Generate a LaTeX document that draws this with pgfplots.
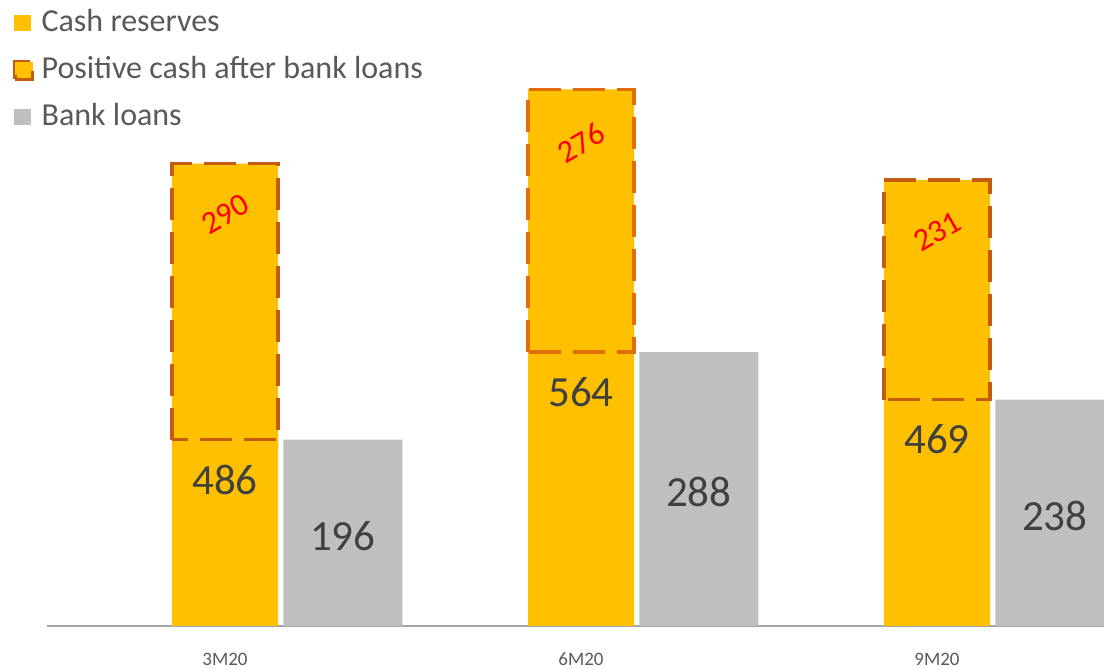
\documentclass[border=0pt]{standalone}
\usepackage{fontspec}
\setmainfont{Carlito}
\usepackage{pgfplots}
\usepackage{pgfplotstable}
\pgfplotsset{compat=1.18}
\definecolor{cashc}{HTML}{FFC000}
\definecolor{bankc}{HTML}{BFBFBF}
\definecolor{boxc}{HTML}{C55A11}
\definecolor{boxd}{HTML}{E26B0A}
\definecolor{numc}{HTML}{404040}
\definecolor{txtc}{HTML}{595959}
\definecolor{axc}{HTML}{A6A6A6}
\pgfplotstableread{
x cash bank pos
0 486 196 290
1 564 288 276
2 469 238 231
}\datatable
\begin{document}
\begin{tikzpicture}
\begin{axis}[
  scale only axis,
  width=528.5pt, height=313pt,
  xmin=-0.5, xmax=2.469,
  ymin=0, ymax=658,
  axis y line=none,
  axis x line*=bottom,
  x axis line style={draw=axc, line width=1.2pt, -},
  ytick=\empty,
  xtick={0,1,2},
  xticklabels={3M20,6M20,9M20},
  major tick length=0pt,
  /pgf/number format/assume math mode=true,
  xticklabel style={font=\fontsize{9.5}{11}\selectfont, text=txtc, anchor=center, yshift=-16.5pt},
  legend style={at={(axis description cs:0,1)}, anchor=north west, xshift=-17pt, yshift=-3.5pt,
    draw=none, fill=none, inner sep=0pt, row sep=7.4pt, column sep=3.6pt,
    font=\fontsize{16}{19}\selectfont, text=txtc,
    nodes={inner sep=0pt, text height=12pt, text depth=4pt}},
  legend cell align=left,
]
\addplot[ybar, bar width=0.298, bar shift=0, fill=cashc, draw=none,
  legend image code/.code={\fill[cashc] (0.5pt,-4pt) rectangle (9pt,4pt);}]
  table[x=x, y=cash]{\datatable};
\addlegendentry{Cash reserves}
\addplot[draw=boxc, line width=1.8pt, dash pattern=on 16pt off 6pt,
  legend image code/.code={\draw[draw=boxc, line width=1.8pt, fill=cashc] (0.9pt,-4.6pt) rectangle (9.6pt,4.1pt);
    \fill[cashc] (1.8pt,-2.5pt) rectangle (8pt,3.2pt);}]
  coordinates {(-0.149,196) (-0.149,486) (0.149,486) (0.149,196)} -- cycle;
\addlegendentry{Positive cash after bank loans}
\addplot[forget plot, draw=boxd, line width=1.8pt, dash pattern=on 16pt off 6pt]
  coordinates {(0.851,288) (0.851,564) (1.149,564) (1.149,288)} -- cycle;
\addplot[forget plot, draw=boxc, line width=1.8pt, dash pattern=on 16pt off 6pt]
  coordinates {(1.851,238) (1.851,469) (2.149,469) (2.149,238)} -- cycle;
\addplot[ybar, bar width=0.334, bar shift=0.331, fill=bankc, draw=none,
  legend image code/.code={\fill[bankc] (0.5pt,-4pt) rectangle (9pt,4pt);}]
  table[x=x, y=bank]{\datatable};
\addlegendentry{Bank loans}
% value labels
\node[text=numc, font=\fontsize{21.5}{24}\selectfont] at (axis cs:0,154) {486};
\node[text=numc, font=\fontsize{21.5}{24}\selectfont] at (axis cs:1,246) {564};
\node[text=numc, font=\fontsize{21.5}{24}\selectfont] at (axis cs:2,196) {469};
\node[text=numc, font=\fontsize{21.5}{24}\selectfont] at (axis cs:0.331,94) {196};
\node[text=numc, font=\fontsize{21.5}{24}\selectfont] at (axis cs:1.331,141) {288};
\node[text=numc, font=\fontsize{21.5}{24}\selectfont] at (axis cs:2.331,116) {238};
\node[text=red, rotate=30, inner sep=0pt, font=\fontsize{16}{18}\selectfont] at (axis cs:0,433) {290};
\node[text=red, rotate=30, inner sep=0pt, font=\fontsize{16}{18}\selectfont] at (axis cs:1,508) {276};
\node[text=red, rotate=30, inner sep=0pt, font=\fontsize{16}{18}\selectfont] at (axis cs:2,415) {231};
\coordinate (BL) at (rel axis cs:0,0);
\coordinate (TR) at (rel axis cs:1,1);
\end{axis}
\pgfresetboundingbox
\path[use as bounding box] ([xshift=-23.5pt,yshift=-21.5pt]BL) rectangle (TR);
\end{tikzpicture}
\end{document}
